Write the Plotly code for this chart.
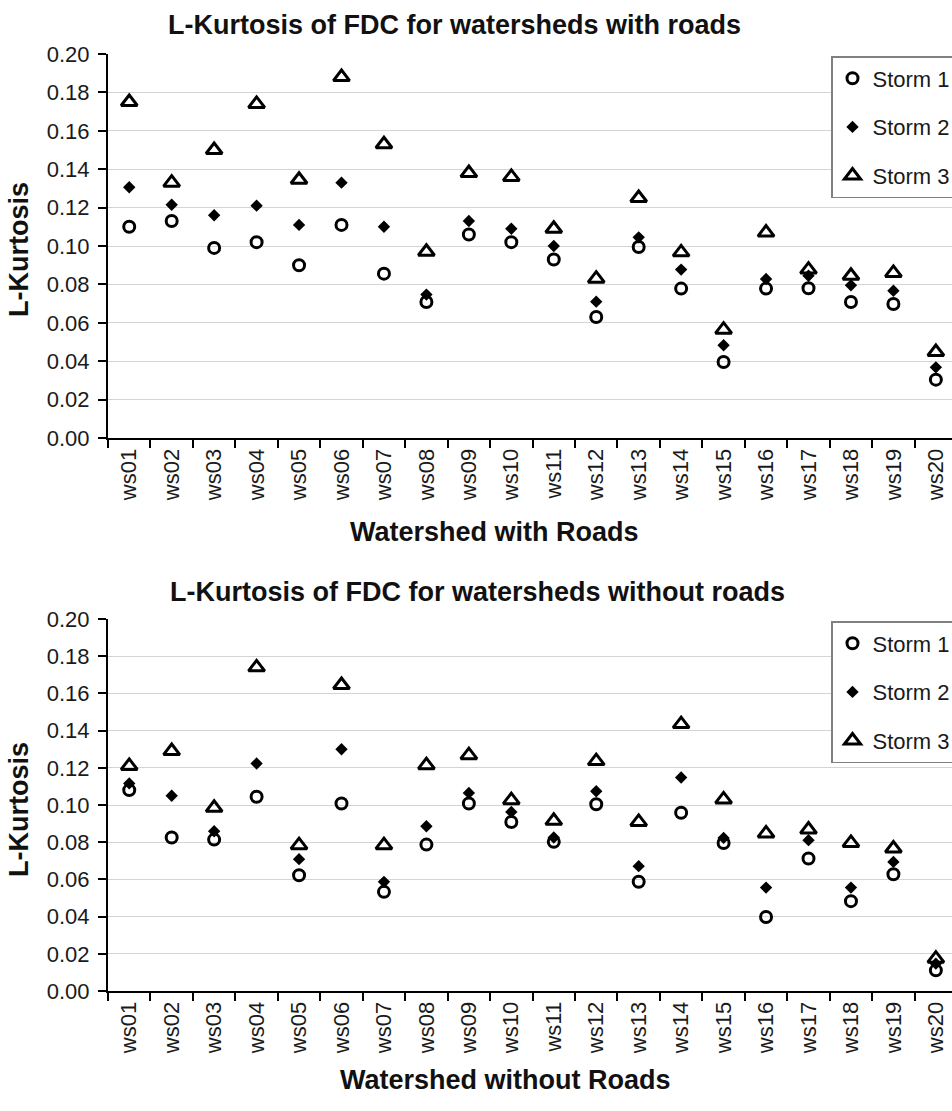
import plotly.graph_objects as go

categories = ["ws%02d" % i for i in range(1, 21)]

# With roads
roads_storm1 = [0.110, 0.113, 0.099, 0.102, 0.090, 0.111, 0.0856, 0.0708, 0.106, 0.102,
                0.093, 0.063, 0.0995, 0.0778, 0.0396, 0.0778, 0.078, 0.0708, 0.0698, 0.0304]
roads_storm2 = [0.1306, 0.1215, 0.116, 0.121, 0.111, 0.133, 0.110, 0.0747, 0.113, 0.109,
                0.100, 0.071, 0.1045, 0.0877, 0.0483, 0.0828, 0.0845, 0.0795, 0.0767, 0.0368]
roads_storm3 = [0.175, 0.133, 0.150, 0.174, 0.1345, 0.188, 0.153, 0.097, 0.138, 0.136,
                0.109, 0.083, 0.125, 0.0967, 0.0564, 0.107, 0.0877, 0.0845, 0.086, 0.0448]

# Without roads
noroads_storm1 = [0.108, 0.0825, 0.0814, 0.1044, 0.0622, 0.1008, 0.0533, 0.0787, 0.1008, 0.0909,
                  0.0802, 0.1004, 0.0587, 0.0958, 0.0796, 0.0398, 0.0712, 0.0483, 0.0628, 0.0111]
noroads_storm2 = [0.1116, 0.105, 0.0859, 0.1223, 0.0709, 0.130, 0.0587, 0.0886, 0.1065, 0.0963,
                  0.0825, 0.1074, 0.0671, 0.1148, 0.0823, 0.0556, 0.0811, 0.0556, 0.0694, 0.0147]
noroads_storm3 = [0.121, 0.129, 0.0985, 0.174, 0.0784, 0.1645, 0.0784, 0.1214, 0.1268, 0.1026,
                  0.0915, 0.1236, 0.0909, 0.1435, 0.103, 0.0847, 0.0868, 0.0796, 0.0766, 0.0174]

series_names = ["Storm 1", "Storm 2", "Storm 3"]
y_ticks = [0.00, 0.02, 0.04, 0.06, 0.08, 0.10, 0.12, 0.14, 0.16, 0.18, 0.20]

FONT = "Arial, Liberation Sans, sans-serif"
W, H = 952, 1111
L = 108

markers = [
    dict(symbol="circle-open", size=11, color="black", line=dict(width=3, color="black")),
    dict(symbol="diamond", size=9.5, color="black", line=dict(width=0)),
    dict(symbol="triangle-up-open", size=14, color="black", line=dict(width=3, color="black")),
]

fig = go.Figure()
for i, (name, vals) in enumerate(zip(series_names, [roads_storm1, roads_storm2, roads_storm3])):
    fig.add_trace(go.Scatter(x=categories, y=vals, mode="markers", name=name,
                             marker=markers[i], xaxis="x", yaxis="y",
                             legend="legend", legendgroup="a%d" % i))
for i, (name, vals) in enumerate(zip(series_names, [noroads_storm1, noroads_storm2, noroads_storm3])):
    fig.add_trace(go.Scatter(x=categories, y=vals, mode="markers", name=name,
                             marker=markers[i], xaxis="x2", yaxis="y2",
                             legend="legend2", legendgroup="b%d" % i))

def py(px):
    return 1 - px / H

def pxx(px):
    return (px - L) / (W - L)

xcommon = dict(type="category", categoryorder="array", categoryarray=categories,
               range=[-0.5, 19.38], tickson="boundaries", ticks="outside", ticklen=8,
               tickwidth=2, tickcolor="black", showline=True, linewidth=2, linecolor="black",
               showgrid=False, tickangle=-90, tickfont=dict(family=FONT, size=22, color="#1a1a1a"),
               zeroline=False, automargin=False)
ycommon = dict(range=[0, 0.2], tickvals=y_ticks, tickformat=".2f", ticks="outside", ticklen=8,
               tickwidth=2, tickcolor="black", showline=True, linewidth=2, linecolor="black",
               showgrid=True, gridcolor="#d4d4d4", gridwidth=1, zeroline=False,
               tickfont=dict(family=FONT, size=22, color="#1a1a1a"), ticklabelstandoff=4,
               automargin=False)

legcommon = dict(font=dict(family=FONT, size=22, color="#1a1a1a"), bordercolor="#808080",
                 borderwidth=1.5, bgcolor="white", xanchor="left", yanchor="top",
                 traceorder="grouped", tracegroupgap=17, itemwidth=30)

fig.update_layout(
    width=W, height=H,
    margin=dict(l=L, r=0, t=0, b=0, autoexpand=False),
    paper_bgcolor="white", plot_bgcolor="white",
    xaxis=dict(**xcommon, anchor="y", domain=[0, 1]),
    yaxis=dict(**ycommon, anchor="x", domain=[py(438), py(54)]),
    xaxis2=dict(**xcommon, anchor="y2", domain=[0, 1]),
    yaxis2=dict(**ycommon, anchor="x2", domain=[py(991), py(619)]),
    legend=dict(**legcommon, x=pxx(831), y=py(56)),
    legend2=dict(**legcommon, x=pxx(831), y=py(621)),
    showlegend=True,
)

def ann(text, x, y, angle=0):
    fig.add_annotation(text="<b>%s</b>" % text, x=x, y=y, xref="paper", yref="paper",
                       showarrow=False, xanchor="center", yanchor="middle", textangle=angle,
                       font=dict(family=FONT, size=27, color="#111"))

ann("L-Kurtosis of FDC for watersheds with roads", pxx(454), py(25))
ann("Watershed with Roads", pxx(494), py(532))
ann("L-Kurtosis", pxx(19), py(250), -90)
ann("L-Kurtosis of FDC for watersheds without roads", pxx(477), py(592))
ann("Watershed without Roads", pxx(505), py(1080))
ann("L-Kurtosis", pxx(19), py(810), -90)

fig.write_html("out.html", config={"displayModeBar": False},
               post_script="document.body.style.margin='0';document.body.style.overflow='hidden';")
